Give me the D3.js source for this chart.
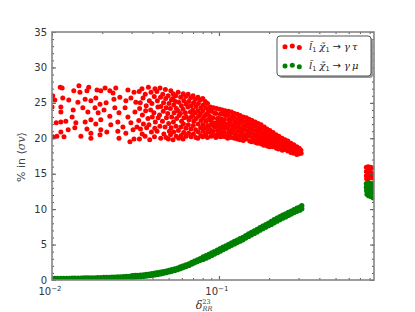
<!DOCTYPE html>
<html>
<head>
<meta charset="utf-8">
<script src="https://cdn.jsdelivr.net/npm/d3@7"></script>
<style>
  body { margin: 0; background: #fff; }
  text { font-family: "DejaVu Sans", sans-serif; }
  .math { font-family: "DejaVu Serif", serif; font-style: italic; }
</style>
</head>
<body>
<svg id="chart" width="415" height="312"></svg>
<script>
// gamma tau channel: [delta_RR^23, % in <sigma v>]
const tauPoints = [
  [0.0112,27.2],[0.0115,27.1],[0.0135,26.7],[0.0145,27.4],[0.0147,26.5],[0.0166,27.2],[0.0162,26.7],[0.0186,26.8],
  [0.0196,26.7],[0.0208,27.1],[0.0222,26.7],[0.0241,27.1],[0.0232,26.4],[0.0285,26.8],[0.0310,26.5],
  [0.0101,26.0],[0.0104,25.4],[0.0116,25.7],[0.0126,25.4],[0.0143,25.1],[0.0158,25.5],[0.0171,25.3],[0.0183,25.7],
  [0.0194,24.8],[0.0211,25.0],[0.0235,25.5],[0.0255,25.8],[0.0277,25.3],[0.0297,25.7],[0.0318,25.1],
  [0.0100,24.4],[0.0113,24.4],[0.0113,23.7],[0.0134,24.0],[0.0132,23.0],[0.0153,24.3],[0.0164,23.7],[0.0181,24.3],
  [0.0189,23.6],[0.0205,24.0],[0.0222,23.1],[0.0238,24.3],[0.0252,23.6],[0.0274,24.3],[0.0285,23.0],[0.0314,23.7],
  [0.0106,22.2],[0.0113,22.3],[0.0121,22.4],[0.0139,22.2],[0.0158,22.3],[0.0171,22.6],[0.0183,22.0],[0.0196,22.6],
  [0.0225,21.9],[0.0248,22.3],[0.0266,21.6],[0.0297,22.2],[0.0323,21.6],
  [0.0113,20.9],[0.0125,21.2],[0.0137,21.5],[0.0162,21.3],[0.0171,20.7],[0.0196,21.2],[0.0213,20.9],[0.0248,21.0],
  [0.0277,20.7],[0.0306,21.2],
  [0.0101,20.2],[0.0107,20.3],[0.0118,20.2],[0.0149,20.3],[0.0171,20.0],[0.0194,20.5],[0.0252,20.0],[0.0293,19.5],[0.0310,19.9],
  // middle of the cloud
  [0.0333,26.6],[0.0338,25.0],[0.0335,24.2],[0.0331,22.5],[0.0339,21.3],[0.0334,19.9],
  [0.0346,27.0],[0.0351,25.7],[0.0348,23.3],[0.0353,22.0],[0.0347,20.6],
  [0.0362,26.2],[0.0367,24.6],[0.0364,23.9],[0.0369,21.5],[0.0361,20.3],
  [0.0378,27.2],[0.0383,25.3],[0.0376,22.8],[0.0381,21.9],[0.0385,19.8],
  [0.0392,26.5],[0.0397,24.9],[0.0390,24.0],[0.0399,23.0],[0.0394,20.9],
  [0.0410,25.9],[0.0414,27.0],[0.0408,23.6],[0.0416,22.3],[0.0411,20.2],[0.0413,21.4],
  [0.0425,26.6],[0.0431,24.4],[0.0428,25.3],[0.0433,22.9],[0.0426,21.0],
  [0.0444,27.1],[0.0447,25.8],[0.0441,23.3],[0.0449,24.5],[0.0443,21.7],[0.0448,20.0],
  [0.0461,26.2],[0.0466,25.0],[0.0459,22.4],[0.0464,23.8],[0.0468,20.6],
  [0.0478,26.9],[0.0483,24.3],[0.0480,25.6],[0.0485,22.9],[0.0476,21.6],[0.0482,20.1],
  [0.0497,26.0],[0.0502,24.9],[0.0494,23.5],[0.0500,22.1],[0.0505,21.0],[0.0498,19.9],
  [0.0515,26.7],[0.0519,25.4],[0.0512,24.2],[0.0521,23.0],[0.0517,21.5],[0.0513,20.5],
  [0.0532,26.3],[0.0537,24.7],[0.0530,25.6],[0.0539,23.6],[0.0534,22.3],[0.0536,20.9],[0.0531,19.8],
  [0.0551,26.0],[0.0556,24.2],[0.0549,25.2],[0.0558,22.8],[0.0553,21.7],[0.0555,20.3],
  [0.0570,26.5],[0.0575,25.1],[0.0568,23.9],[0.0577,23.2],[0.0572,21.1],[0.0574,20.0],
  [0.0590,25.8],[0.0596,24.6],[0.0588,23.5],[0.0597,22.4],[0.0592,21.6],[0.0594,20.4],
  [0.0611,26.3],[0.0616,25.3],[0.0609,24.1],[0.0618,22.9],[0.0613,22.0],[0.0615,20.8],[0.0610,19.9],
  [0.0632,25.9],[0.0637,24.8],[0.0630,23.6],[0.0639,23.0],[0.0634,21.4],[0.0636,20.3],
  [0.0654,26.2],[0.0659,25.2],[0.0652,24.4],[0.0661,22.6],[0.0656,21.9],[0.0658,20.7],
  [0.0677,25.7],[0.0682,24.6],[0.0675,23.7],[0.0684,23.0],[0.0679,21.3],[0.0681,20.2],
  [0.0700,26.0],[0.0705,25.0],[0.0698,24.0],[0.0707,22.4],[0.0702,21.8],[0.0704,20.6],[0.0699,23.3],
  [0.0724,25.5],[0.0729,24.5],[0.0722,23.6],[0.0731,22.8],[0.0726,21.2],[0.0728,20.1],
  [0.0749,25.8],[0.0754,24.9],[0.0747,23.9],[0.0756,23.1],[0.0751,22.0],[0.0753,20.9],[0.0748,20.0],
  [0.0775,25.4],[0.0780,24.3],[0.0773,23.4],[0.0782,22.5],[0.0777,21.5],[0.0779,20.4],
  [0.0801,25.6],[0.0806,24.7],[0.0799,23.8],[0.0808,22.9],[0.0803,21.9],[0.0805,21.0],[0.0800,20.2],
  [0.0828,25.2],[0.0833,24.3],[0.0826,23.2],[0.0835,22.4],[0.0830,21.4],[0.0832,20.5],
  [0.0855,24.9],[0.0860,24.0],[0.0853,23.5],[0.0862,22.6],[0.0857,21.8],[0.0859,20.9],[0.0854,20.1],
  // dense band towards 0.3
  [0.089,24.4],[0.090,23.8],[0.088,23.1],[0.089,22.5],[0.090,21.9],[0.088,21.3],[0.089,20.8],[0.090,20.3],
  [0.093,24.3],[0.094,23.6],[0.092,22.9],[0.093,22.2],[0.094,21.6],[0.092,21.0],[0.093,20.4],
  [0.097,24.2],[0.096,23.5],[0.098,22.8],[0.097,22.2],[0.096,21.7],[0.098,21.1],[0.097,20.5],[0.096,20.1],
  [0.101,24.1],[0.102,23.4],[0.100,22.8],[0.101,22.3],[0.102,21.8],[0.100,21.3],[0.101,20.7],[0.102,20.2],
  [0.105,24.0],[0.106,23.4],[0.104,22.7],[0.105,22.1],[0.106,21.5],[0.104,20.9],[0.105,20.3],
  [0.109,23.9],[0.110,23.2],[0.108,22.6],[0.109,22.0],[0.110,21.4],[0.108,20.8],[0.109,20.2],
  [0.114,23.8],[0.113,23.3],[0.115,22.7],[0.114,22.1],[0.113,21.6],[0.115,21.0],[0.114,20.5],[0.113,20.0],
  [0.119,23.7],[0.120,23.1],[0.118,22.5],[0.119,21.9],[0.120,21.3],[0.118,20.7],[0.119,20.1],
  [0.124,23.5],[0.123,22.9],[0.125,22.3],[0.124,21.8],[0.123,21.2],[0.125,20.6],[0.124,20.0],
  [0.129,23.4],[0.130,22.8],[0.128,22.2],[0.129,21.6],[0.130,21.0],[0.128,20.4],[0.129,19.9],
  [0.134,23.2],[0.135,22.6],[0.133,22.1],[0.134,21.5],[0.135,20.9],[0.133,20.3],[0.134,19.8],
  [0.140,23.0],[0.139,22.4],[0.141,21.8],[0.140,21.2],[0.139,20.6],[0.141,20.1],[0.140,19.7],
  [0.146,22.9],[0.147,22.3],[0.145,21.7],[0.146,21.1],[0.147,20.5],[0.145,19.9],
  [0.152,22.7],[0.151,22.1],[0.153,21.5],[0.152,20.9],[0.151,20.3],[0.153,19.6],
  [0.158,22.5],[0.159,21.9],[0.157,21.3],[0.158,20.7],[0.159,20.1],[0.157,19.5],
  [0.165,22.3],[0.164,21.7],[0.166,21.1],[0.165,20.5],[0.164,19.9],[0.166,19.4],
  [0.172,22.1],[0.173,21.5],[0.171,20.9],[0.172,20.3],[0.173,19.8],[0.171,19.3],
  [0.179,21.9],[0.178,21.3],[0.180,20.7],[0.179,20.1],[0.178,19.6],[0.180,19.2],
  [0.187,21.6],[0.188,21.0],[0.186,20.5],[0.187,19.9],[0.188,19.4],[0.186,19.0],
  [0.194,21.3],[0.193,20.8],[0.195,20.2],[0.194,19.7],[0.193,19.2],[0.195,18.9],
  [0.202,21.1],[0.203,20.6],[0.201,20.0],[0.202,19.5],[0.203,19.0],[0.201,18.8],
  [0.211,20.8],[0.210,20.3],[0.212,19.8],[0.211,19.3],[0.210,18.8],
  [0.220,20.5],[0.221,20.0],[0.219,19.5],[0.220,19.0],[0.221,18.6],
  [0.229,20.3],[0.228,19.8],[0.230,19.3],[0.229,18.9],[0.228,18.5],
  [0.239,20.0],[0.240,19.5],[0.238,19.1],[0.239,18.7],[0.240,18.3],
  [0.249,19.8],[0.248,19.3],[0.250,18.9],[0.249,18.4],
  [0.259,19.6],[0.260,19.1],[0.258,18.6],[0.259,18.2],
  [0.270,19.3],[0.269,18.9],[0.271,18.4],[0.270,18.0],
  [0.281,19.1],[0.282,18.6],[0.280,18.2],[0.281,17.9],
  [0.293,18.8],[0.292,18.4],[0.294,18.0],[0.293,17.7],
  [0.303,18.6],[0.304,18.2],[0.302,17.8],
  [0.310,18.3],[0.311,17.9],
  // cluster at the right edge
  [0.765,15.9],[0.765,15.3],[0.765,14.7],[0.768,14.3],[0.785,16.0],[0.785,15.4],[0.785,14.8],[0.785,14.3],
  [0.81,15.9],[0.81,15.2],[0.81,14.6],[0.83,15.8],[0.83,15.0],[0.83,14.4]
];

// gamma mu channel: a thin band, given as delta with lower / upper edge values
const muDelta = [0.0100,0.0104,0.0108,0.0113,0.0117,0.0122,0.0127,0.0132,0.0137,0.0143,0.0149,0.0155,0.0161,0.0167,
  0.0174,0.0181,0.0188,0.0196,0.0204,0.0212,0.0220,0.0229,0.0238,0.0248,0.0258,0.0268,0.0279,0.0290,0.0302,0.0314,
  0.0326,0.0339,0.0353,0.0367,0.0382,0.0397,0.0413,0.0429,0.0447,0.0464,0.0483,0.0502,0.0522,0.0543,0.0565,0.0588,
  0.0611,0.0636,0.0661,0.0688,0.0715,0.0744,0.0774,0.0805,0.0837,0.0870,0.0905,0.0941,0.0979,0.1018,0.1059,0.1101,
  0.1145,0.1191,0.1239,0.1288,0.1340,0.1393,0.1449,0.1507,0.1567,0.1630,0.1695,0.1763,0.1833,0.1907,0.1983,0.2062,
  0.2145,0.2231,0.2320,0.2412,0.2509,0.2609,0.2714,0.2822,0.2935,0.3053,0.3140];
const muLow = [0.09,0.10,0.10,0.11,0.12,0.12,0.13,0.14,0.14,0.15,0.16,0.17,0.17,0.18,
  0.19,0.20,0.21,0.23,0.24,0.26,0.27,0.29,0.30,0.32,0.34,0.36,0.38,0.40,0.37,0.40,
  0.43,0.46,0.50,0.55,0.60,0.66,0.72,0.79,0.86,0.94,1.03,1.13,1.23,1.34,1.45,1.60,
  1.75,1.90,2.05,2.25,2.43,2.60,2.78,2.90,3.08,3.26,3.46,3.66,3.86,4.06,4.27,4.47,
  4.68,4.89,5.09,5.28,5.48,5.67,5.92,6.14,6.35,6.57,6.79,7.02,7.23,7.45,7.67,7.84,
  8.07,8.30,8.52,8.72,8.90,9.10,9.30,9.51,9.69,9.86,10.06];
const muHigh = [0.21,0.22,0.22,0.23,0.24,0.24,0.25,0.26,0.26,0.27,0.28,0.29,0.29,0.30,
  0.31,0.32,0.33,0.35,0.36,0.38,0.39,0.41,0.42,0.44,0.46,0.48,0.50,0.52,0.61,0.64,
  0.67,0.70,0.74,0.79,0.84,0.90,0.96,1.03,1.10,1.18,1.27,1.37,1.47,1.58,1.69,1.84,
  1.99,2.14,2.29,2.49,2.67,2.84,3.02,3.26,3.44,3.62,3.82,4.02,4.22,4.42,4.63,4.83,
  5.04,5.25,5.45,5.64,5.84,6.03,6.28,6.50,6.71,6.93,7.15,7.38,7.59,7.81,8.03,8.28,
  8.51,8.74,8.96,9.16,9.34,9.54,9.74,9.95,10.13,10.30,10.50];
const muCluster = [
  [0.765,13.6],[0.765,13.1],[0.768,12.6],[0.772,12.1],[0.79,13.7],[0.79,13.1],[0.79,12.5],[0.79,11.9],
  [0.815,13.6],[0.815,13.0],[0.815,12.4],[0.815,11.8],[0.84,13.5],[0.84,12.8],[0.84,12.2],[0.84,11.6]
];

const yTicks = [0, 5, 10, 15, 20, 25, 30, 35];
const yMinor = d3.range(0, 36);
const xMajor = [0.01, 0.1];
const xMajorExp = ["\u22122", "\u22121"];
const xMinor = [0.02,0.03,0.04,0.05,0.06,0.07,0.08,0.09,0.2,0.3,0.4,0.5,0.6,0.7,0.8];

const tauColor = "#ff0000", muColor = "#008000";

const svg = d3.select("#chart");
const pLeft = 52, pRight = 374, pTop = 32, pBottom = 280;

const x = d3.scaleLog().domain([0.01, 0.85]).range([pLeft, pRight]);
const y = d3.scaleLinear().domain([0, 35]).range([pBottom, pTop]);

svg.append("defs").append("clipPath").attr("id", "plotclip")
  .append("rect").attr("x", pLeft).attr("y", pTop)
  .attr("width", pRight - pLeft).attr("height", pBottom - pTop);

const muPoints = [];
muDelta.forEach((d, i) => {
  muPoints.push([d, muLow[i]]);
  muPoints.push([d, muHigh[i]]);
});
muCluster.forEach(p => muPoints.push(p));

const plot = svg.append("g").attr("clip-path", "url(#plotclip)");

plot.selectAll("circle.tau").data(tauPoints).join("circle")
  .attr("class", "tau")
  .attr("cx", d => x(d[0])).attr("cy", d => y(d[1]))
  .attr("r", 2.5).attr("fill", tauColor);

plot.selectAll("circle.mu").data(muPoints).join("circle")
  .attr("class", "mu")
  .attr("cx", d => x(d[0])).attr("cy", d => y(d[1]))
  .attr("r", 2.6).attr("fill", muColor);

// ticks, all pointing inwards
const tickCol = "#555";
function ticks(axis, pos, values, size) {
  svg.append("g").attr("transform", pos)
    .call(axis.tickValues(values).tickSize(size).tickSizeOuter(0).tickFormat(""))
    .call(g => g.select(".domain").remove())
    .call(g => g.selectAll("line").attr("stroke", tickCol));
}
ticks(d3.axisBottom(x), `translate(0,${pBottom})`, xMajor, -4);
ticks(d3.axisBottom(x), `translate(0,${pBottom})`, xMinor, -2);
ticks(d3.axisTop(x), `translate(0,${pTop})`, xMajor, -4);
ticks(d3.axisTop(x), `translate(0,${pTop})`, xMinor, -2);
ticks(d3.axisLeft(y), `translate(${pLeft},0)`, yTicks, -4);
ticks(d3.axisLeft(y), `translate(${pLeft},0)`, yMinor, -2);
ticks(d3.axisRight(y), `translate(${pRight},0)`, yTicks, -4);
ticks(d3.axisRight(y), `translate(${pRight},0)`, yMinor, -2);

// frame
svg.append("rect").attr("x", pLeft).attr("y", pTop)
  .attr("width", pRight - pLeft).attr("height", pBottom - pTop)
  .attr("fill", "none").attr("stroke", "#858585").attr("stroke-width", 1.6);

// tick labels
svg.append("g").selectAll("text").data(yTicks).join("text")
  .attr("x", pLeft - 5).attr("y", d => y(d)).attr("dy", "0.36em")
  .attr("text-anchor", "end").attr("font-size", 10).attr("fill", "#333")
  .text(d => d);

const xl = svg.append("g").selectAll("text").data(xMajor).join("text")
  .attr("x", d => x(d) - 2).attr("y", 295)
  .attr("text-anchor", "middle").attr("font-size", 10).attr("fill", "#333");
xl.append("tspan").text("10");
xl.append("tspan").attr("font-size", 7).attr("dy", -4).text((d, i) => xMajorExp[i]);

// axis titles
const xt = svg.append("text").attr("class", "math").attr("x", 204).attr("y", 308.5)
  .attr("text-anchor", "middle").attr("font-size", 11).attr("fill", "#333");
xt.append("tspan").text("\u03b4");
xt.append("tspan").attr("font-size", 6.5).attr("font-style", "normal").attr("dy", -5).text("23");
xt.append("tspan").attr("font-size", 6.5).attr("dx", -8).attr("dy", 7.5).text("RR");

const yt = svg.append("text").attr("transform", "translate(25,157) rotate(-90)")
  .attr("text-anchor", "middle").attr("font-size", 11).attr("fill", "#444");
yt.append("tspan").text("% in ");
yt.append("tspan").attr("class", "math").style("font-style", "normal").text("\u27e8");
yt.append("tspan").attr("class", "math").text("\u03c3v");
yt.append("tspan").attr("class", "math").style("font-style", "normal").text("\u27e9");

// legend
const legendRows = [
  { color: tauColor, last: "\u03c4" },
  { color: muColor, last: "\u03bc" }
];
const lg = svg.append("g");
lg.append("rect").attr("x", 279).attr("y", 38).attr("width", 94).attr("height", 40)
  .attr("rx", 3).attr("fill", "#9a9a9a");
lg.append("rect").attr("x", 277).attr("y", 36).attr("width", 94).attr("height", 40)
  .attr("rx", 3).attr("fill", "#fff").attr("stroke", "#555").attr("stroke-width", 1);

const dotDx = [285, 292.3, 299.3];
const dotDy = [0.3, -0.6, 1.0];
legendRows.forEach((r, i) => {
  const cy = 46.5 + i * 19.3;
  dotDx.forEach((dx, j) => {
    lg.append("circle").attr("cx", dx).attr("cy", cy + dotDy[j]).attr("r", 2.5).attr("fill", r.color);
  });
  const t = lg.append("text").attr("x", 309).attr("y", cy + 3.5)
    .attr("font-size", 10).attr("fill", "#222");
  t.append("tspan").attr("class", "math").text("l\u0303");
  t.append("tspan").attr("font-size", 6.5).attr("dy", 2).text("1");
  t.append("tspan").attr("class", "math").attr("dx", 3).attr("dy", -2).text("\u03c7\u0303");
  t.append("tspan").attr("font-size", 6.5).attr("dy", 2).text("1");
  t.append("tspan").attr("dx", 3).attr("dy", -2).text("\u2192");
  t.append("tspan").attr("class", "math").attr("dx", 3).text("\u03b3");
  t.append("tspan").attr("class", "math").attr("dx", 2).text(r.last);
});
</script>
</body>
</html>
